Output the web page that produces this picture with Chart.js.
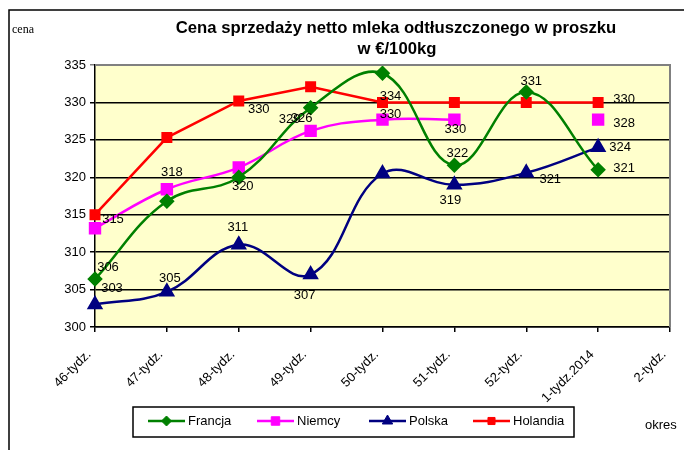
<!DOCTYPE html>
<html>
<head>
<meta charset="utf-8">
<script src="https://cdn.jsdelivr.net/npm/chart.js@4.4.1/dist/chart.umd.min.js"></script>
<style>
  html, body { margin: 0; padding: 0; background: #fff; }
  #wrap { width: 684px; height: 450px; position: relative; }
</style>
</head>
<body>
<div id="wrap"><canvas id="c" width="684" height="450"></canvas></div>
<script>
// categories (x axis)
const weeks = ['46-tydz.', '47-tydz.', '48-tydz.', '49-tydz.', '50-tydz.', '51-tydz.', '52-tydz.', '1-tydz.2014', '2-tydz.']

// series values
const francja  = [306.4, 316.8, 320.0, 329.3, 333.9, 321.6, 331.4, 321.0, null]
const niemcy   = [313.2, 318.4, 321.3, 326.2, 327.7, 327.7, null, 327.7, null]
const polska   = [303.0, 304.7, 311.0, 307.0, 320.5, 319.0, 320.6, 324.0, null]
const holandia = [315.0, 325.3, 330.2, 332.1, 330.0, 330.0, 330.0, 330.0, null]

// data labels as printed in the picture (null = not shown)
const francjaLbl  = ['306', null, '320', '329', '334', '322', '331', '321', null]
const niemcyLbl   = [null, '318', null, '326', '330', '330', null, '328', null]
const polskaLbl   = ['303', '305', '311', '307', null, '319', '321', '324', null]
const holandiaLbl = ['315', null, '330', null, null, null, null, '330', null]

// y ticks
const yMin = 300, yMax = 335, yStep = 5

// label offsets from the point (styling only)
const lblOffsets = [
  [[13,-12], null, [4,9], [-21,12], [8,23], [3,-12], [5,-11], [26,-1], null],
  [null, [5,-17], null, [-9,-12], [8,-5], [1,10], null, [26,4], null],
  [[17,-16], [3,-13], [-1,-17], [-6,21], null, [-4,16], [24,7], [22,0], null],
  [[18,5], null, [20,8], null, null, null, null, [26,-3], null]
]

const FONT = '"Liberation Sans", Arial, sans-serif'

const extras = {
  id: 'extras',
  beforeDraw(chart) {
    const ctx = chart.ctx
    const a = chart.chartArea
    ctx.save()
    ctx.fillStyle = '#ffffff'
    ctx.fillRect(0, 0, chart.width, chart.height)
    ctx.fillStyle = '#FFFFCC'
    ctx.fillRect(a.left, a.top, a.right - a.left, a.bottom - a.top)
    ctx.restore()
  },
  afterDraw(chart) {
    const ctx = chart.ctx
    const a = chart.chartArea
    ctx.save()
    // outer frame
    ctx.strokeStyle = '#000'
    ctx.lineWidth = 1.5
    ctx.beginPath()
    ctx.moveTo(9, 450)
    ctx.lineTo(9, 10)
    ctx.lineTo(684, 10)
    ctx.stroke()

    // plot area border (top/right)
    ctx.strokeStyle = '#808080'
    ctx.lineWidth = 2
    ctx.beginPath()
    ctx.moveTo(a.left, a.top)
    ctx.lineTo(a.right, a.top)
    ctx.lineTo(a.right, a.bottom)
    ctx.stroke()

    // title
    ctx.fillStyle = '#000'
    ctx.textAlign = 'center'
    ctx.textBaseline = 'middle'
    ctx.font = 'bold 16.7px ' + FONT
    ctx.fillText('Cena sprzedaży netto mleka odtłuszczonego w proszku', 396, 28)
    ctx.fillText('w €/100kg', 397, 49)

    // axis names
    ctx.textAlign = 'left'
    ctx.font = '12px "Liberation Serif", "Times New Roman", serif'
    ctx.fillText('cena', 12, 30)
    ctx.font = '13px ' + FONT
    ctx.fillText('okres', 645, 425)

    // data labels
    ctx.textAlign = 'center'
    ctx.font = '13px ' + FONT
    const allLbl = [francjaLbl, niemcyLbl, polskaLbl, holandiaLbl]
    allLbl.forEach(function (lbls, di) {
      const meta = chart.getDatasetMeta(di)
      lbls.forEach(function (t, i) {
        if (!t || !lblOffsets[di][i]) return
        const p = meta.data[i]
        ctx.fillText(t, p.x + lblOffsets[di][i][0], p.y + lblOffsets[di][i][1])
      })
    })

    // legend
    ctx.strokeStyle = '#000'
    ctx.lineWidth = 1.5
    ctx.strokeRect(133, 407, 441, 30)
    const items = [
      { ds: 0, x: 148 },
      { ds: 1, x: 257 },
      { ds: 2, x: 369 },
      { ds: 3, x: 473 }
    ]
    const ly = 421
    items.forEach(function (it) {
      const ds = chart.data.datasets[it.ds]
      ctx.strokeStyle = ds.borderColor
      ctx.fillStyle = ds.borderColor
      ctx.lineWidth = 2.5
      ctx.beginPath()
      ctx.moveTo(it.x, ly)
      ctx.lineTo(it.x + 37, ly)
      ctx.stroke()
      ctx.lineWidth = 1
      Chart.helpers.drawPoint(ctx, {
        pointStyle: ds.pointStyle,
        radius: ds.pointRadius - 1,
        rotation: 0,
        borderWidth: 1
      }, it.x + 18.5, ly)
      ctx.fillStyle = '#000'
      ctx.textAlign = 'left'
      ctx.font = '13px ' + FONT
      ctx.fillText(ds.label, it.x + 40, ly)
    })
    ctx.restore()
  }
}

function series(label, data, color, style, radius, tension) {
  return {
    label: label,
    data: data,
    borderColor: color,
    backgroundColor: color,
    pointBackgroundColor: color,
    pointBorderColor: color,
    pointStyle: style,
    pointRadius: radius,
    pointHoverRadius: radius,
    borderWidth: 2.5,
    tension: tension,
    spanGaps: false
  }
}

new Chart(document.getElementById('c'), {
  type: 'line',
  data: {
    labels: weeks,
    datasets: [
      series('Francja', francja, '#008000', 'rectRot', 6, 0.4),
      series('Niemcy', niemcy, '#FF00FF', 'rect', 7, 0.4),
      series('Polska', polska, '#000080', 'triangle', 7, 0.4),
      series('Holandia', holandia, '#FF0000', 'rect', 6, 0)
    ]
  },
  options: {
    responsive: false,
    animation: false,
    events: [],
    layout: { padding: { left: 0, top: 65, right: 14, bottom: 0 } },
    plugins: {
      legend: { display: false },
      title: { display: false },
      tooltip: { enabled: false }
    },
    scales: {
      x: {
        type: 'category',
        offset: false,
        afterFit: function (s) {
          s.height = 123
          s.paddingRight = 0
          s.paddingLeft = 0
        },
        grid: { drawOnChartArea: false, drawTicks: true, tickLength: 5, color: '#000', lineWidth: 1.5 },
        border: { color: '#000', width: 1.5 },
        ticks: {
          color: '#000',
          font: { family: FONT, size: 13 },
          minRotation: 45,
          maxRotation: 45,
          autoSkip: false,
          padding: 15,
          labelOffset: -6
        }
      },
      y: {
        min: yMin,
        max: yMax,
        afterFit: function (s) {
          s.width = 95
          s.paddingTop = 0
          s.paddingBottom = 0
        },
        grid: {
          color: function (c) { return c.tick && c.tick.value === yMax ? '#808080' : '#000' },
          lineWidth: 1.5,
          tickLength: 5
        },
        border: { color: '#000', width: 1.5 },
        ticks: {
          stepSize: yStep,
          color: '#000',
          font: { family: FONT, size: 13 },
          padding: 4
        }
      }
    }
  },
  plugins: [extras]
})
</script>
</body>
</html>
